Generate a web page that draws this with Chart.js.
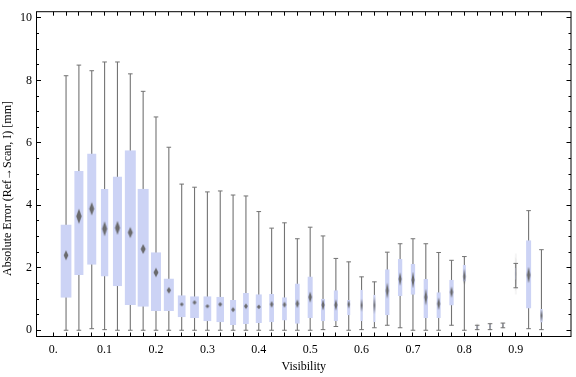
<!DOCTYPE html>
<html>
<head>
<meta charset="utf-8">
<script src="https://cdn.jsdelivr.net/npm/chart.js@4.4.1/dist/chart.umd.min.js"></script>
<style>
html, body { margin: 0; padding: 0; background: #fff; }
</style>
</head>
<body>
<canvas id="myChart" width="576" height="377"></canvas>
<script>
// bins and box-whisker values (mm)
var visibility = [0.025, 0.05, 0.075, 0.1, 0.125, 0.15, 0.175, 0.2, 0.225, 0.25, 0.275, 0.3, 0.325,
    0.35, 0.375, 0.4, 0.425, 0.45, 0.475, 0.5, 0.525, 0.55, 0.575, 0.6, 0.625, 0.65, 0.675, 0.7,
    0.725, 0.75, 0.775, 0.8, 0.825, 0.85, 0.875, 0.9, 0.925, 0.95];
var whiskerLow = [0, 0, 0.05, 0.02, 0, 0, 0, 0, 0, 0, 0, 0, 0,
    0, 0, 0, 0, 0, 0, 0, 0.02, 0.12, 0, 0.02, 0.08, 0.16, 0.08, 0,
    0, 0, 0.16, 0, 0.02, 0.02, 0.08, 1.36, 0.05, 0.02];
var quartile1 = [1.04, 1.77, 2.10, 1.72, 1.41, 0.81, 0.75, 0.62, 0.62, 0.42, 0.39, 0.29, 0.26,
    0.17, 0.20, 0.23, 0.26, 0.31, 0.21, 0.39, 0.29, 0.29, 0.48, 0.29, 0.26, 0.48, 1.10, 1.14,
    0.39, 0.39, 0.79, 1.56, 0.05, 0.06, 0.12, 1.62, 0.70, 0.25];
var median = [2.40, 3.65, 3.89, 3.25, 3.28, 3.13, 2.60, 1.85, 1.28, 0.83, 0.89, 0.77, 0.83,
    0.66, 0.77, 0.75, 0.83, 0.82, 0.85, 1.06, 0.81, 0.81, 0.83, 0.80, 0.80, 1.27, 1.64, 1.61,
    1.06, 0.85, 1.22, 1.72, 0.10, 0.12, 0.15, 1.80, 1.77, 0.47];
var quartile3 = [3.39, 5.10, 5.66, 4.52, 4.92, 5.76, 4.53, 2.50, 1.66, 1.12, 1.09, 1.09, 1.07,
    0.97, 1.19, 1.15, 1.16, 1.06, 1.50, 1.72, 1.01, 1.28, 0.97, 1.30, 1.14, 1.95, 2.28, 2.12,
    1.64, 1.22, 1.62, 2.09, 0.14, 0.17, 0.19, 2.00, 2.88, 0.68];
var whiskerHigh = [8.15, 8.49, 8.31, 8.59, 8.59, 8.21, 7.65, 6.83, 5.86, 4.68, 4.58, 4.43, 4.46,
    4.33, 4.30, 3.80, 3.27, 3.44, 2.93, 3.30, 3.02, 2.30, 2.19, 1.71, 1.55, 2.50, 2.77, 2.93,
    2.77, 2.49, 2.24, 2.36, 0.16, 0.21, 0.23, 2.14, 3.83, 2.58];

var xTickLabels = [0, 0.1, 0.2, 0.3, 0.4, 0.5, 0.6, 0.7, 0.8, 0.9];
var yTickLabels = [0, 2, 4, 6, 8, 10];
var yMinorTicks = [0, 0.5, 1, 1.5, 2, 2.5, 3, 3.5, 4, 4.5, 5, 5.5, 6, 6.5, 7, 7.5, 8, 8.5, 9, 9.5, 10];
var xLabel = "Visibility";
var yLabel = "Absolute Error (Ref\u2192Scan, I) [mm]";

// look of each box (pixel widths of box, median diamond)
var boxWidth = [10.7, 9, 9, 7.3, 9, 11, 11, 10, 10, 7.7, 8.7, 7.7, 7.5,
    6, 5.7, 6, 4.7, 4.7, 4.7, 5, 4, 4, 3, 2.3, 2, 4.3, 4.3, 4.3,
    4.3, 4, 4.3, 3, 1, 1, 0.8, 0.5, 5, 2.3];
var diamondW = [4.7, 5.5, 5, 5, 5, 5, 5, 5, 4.5, 4, 4, 4, 4,
    4, 4, 4, 3.5, 3.5, 3.5, 3.5, 3, 3, 2.5, 2, 1.8, 3, 3, 3,
    3, 3, 3, 2.5, 1, 1, 1, 0.6, 3.5, 2];
var diamondH = [10, 15, 13.5, 15, 14, 11, 10, 9.3, 6.7, 4, 4.5, 4, 4.5,
    5, 5.5, 4.5, 6.7, 6, 8.3, 11, 11, 11.7, 8.3, 13, 17, 16, 13.3, 16.7,
    16.7, 12.7, 11.3, 16, 8, 8, 6, 46, 16.7, 13];

var grey = "#737373";
var boxColor = "rgb(204, 211, 245)";
var serif = "'Liberation Serif', 'Times New Roman', serif";
var maxBox = 12;

function diamond(w, h) {
    var c = document.createElement("canvas");
    c.width = 14;
    c.height = 52;
    var g = c.getContext("2d");
    g.fillStyle = "rgba(100, 100, 100, 0.95)";
    g.beginPath();
    g.moveTo(7, 26 - h / 2);
    g.lineTo(7 + w / 2, 26);
    g.lineTo(7, 26 + h / 2);
    g.lineTo(7 - w / 2, 26);
    g.closePath();
    g.fill();
    return c;
}
var diamonds = visibility.map(function (v, i) { return diamond(diamondW[i], diamondH[i]); });

var capPoints = [];
visibility.forEach(function (v, i) {
    capPoints.push({x: v, y: whiskerLow[i]});
    capPoints.push({x: v, y: whiskerHigh[i]});
});

// frame with inward ticks + rotated y label
var framePlugin = {
    id: "frame",
    afterDraw: function (chart) {
        var a = chart.chartArea, c = chart.ctx;
        var xs = chart.scales.x, ys = chart.scales.y;
        c.save();
        c.strokeStyle = "#000";
        c.lineWidth = 1;
        c.strokeRect(a.left, a.top, a.right - a.left, a.bottom - a.top);
        c.beginPath();
        [0].concat(visibility).forEach(function (v) {
            var px = Math.round(xs.getPixelForValue(v) - 0.5) + 0.5;
            c.moveTo(px, a.bottom); c.lineTo(px, a.bottom - 4);
            c.moveTo(px, a.top); c.lineTo(px, a.top + 4);
        });
        yMinorTicks.forEach(function (v) {
            var py = Math.round(ys.getPixelForValue(v) - 0.5) + 0.5;
            var len = yTickLabels.indexOf(v) >= 0 ? 4.5 : 2.5;
            c.moveTo(a.left, py); c.lineTo(a.left + len, py);
            c.moveTo(a.right, py); c.lineTo(a.right - len, py);
        });
        c.stroke();
        c.fillStyle = "#000";
        c.font = "12px " + serif;
        c.textAlign = "center";
        c.textBaseline = "alphabetic";
        c.translate(11, 188.5);
        c.rotate(-Math.PI / 2);
        c.fillText(yLabel, 0, 0);
        c.restore();
    }
};

var ctx = document.getElementById("myChart");
var myChart = new Chart(ctx, {
    type: 'bar',
    data: {
        datasets: [
            {
                type: 'bar',
                data: visibility.map(function (v, i) { return {x: v, y: [whiskerLow[i], whiskerHigh[i]]}; }),
                backgroundColor: grey,
                barThickness: 1.1,
                grouped: false,
                inflateAmount: 0,
                borderWidth: 0,
                order: 4
            },
            {
                type: 'bar',
                data: visibility.map(function (v, i) { return {x: v, y: [quartile1[i], quartile3[i]]}; }),
                backgroundColor: boxColor,
                barThickness: maxBox,
                grouped: false,
                inflateAmount: 0,
                borderSkipped: false,
                borderColor: "rgba(0,0,0,0)",
                borderWidth: function (c) {
                    var s = (maxBox - boxWidth[c.dataIndex]) / 2;
                    return {left: s, right: s, top: 0, bottom: 0};
                },
                order: 3
            },
            {
                type: 'scatter',
                data: capPoints,
                pointStyle: 'line',
                pointRadius: 2.3,
                borderColor: grey,
                borderWidth: 1,
                order: 2
            },
            {
                type: 'scatter',
                data: visibility.map(function (v, i) { return {x: v, y: median[i]}; }),
                pointStyle: function (c) { return diamonds[c.dataIndex]; },
                pointRadius: 3,
                order: 1
            }
        ]
    },
    options: {
        responsive: false,
        animation: false,
        layout: { padding: { left: 0, right: 0.5, top: 4.5, bottom: 0 } },
        plugins: { legend: { display: false }, tooltip: { enabled: false } },
        scales: {
            x: {
                type: 'linear',
                min: -0.0325,
                max: 1.0075,
                offset: false,
                grid: { display: false, drawTicks: false },
                border: { display: false },
                afterBuildTicks: function (s) { s.ticks = xTickLabels.map(function (v) { return {value: v}; }); },
                afterFit: function (s) { s.height = 40.5; },
                ticks: {
                    autoSkip: false,
                    maxRotation: 0,
                    padding: 6,
                    color: '#000',
                    font: { family: serif, size: 12 },
                    callback: function (v) { return v === 0 ? '0.' : v.toFixed(1); }
                },
                title: {
                    display: true,
                    text: xLabel,
                    color: '#000',
                    font: { family: serif, size: 12 },
                    padding: { top: 0, bottom: 3 }
                }
            },
            y: {
                type: 'linear',
                min: -0.2,
                max: 10.2,
                grid: { display: false, drawTicks: false },
                border: { display: false },
                afterBuildTicks: function (s) { s.ticks = yTickLabels.map(function (v) { return {value: v}; }); },
                afterFit: function (s) { s.width = 36.5; },
                ticks: {
                    padding: 4.5,
                    color: '#000',
                    font: { family: serif, size: 12 }
                }
            }
        }
    },
    plugins: [framePlugin]
});
</script>
</body>
</html>
